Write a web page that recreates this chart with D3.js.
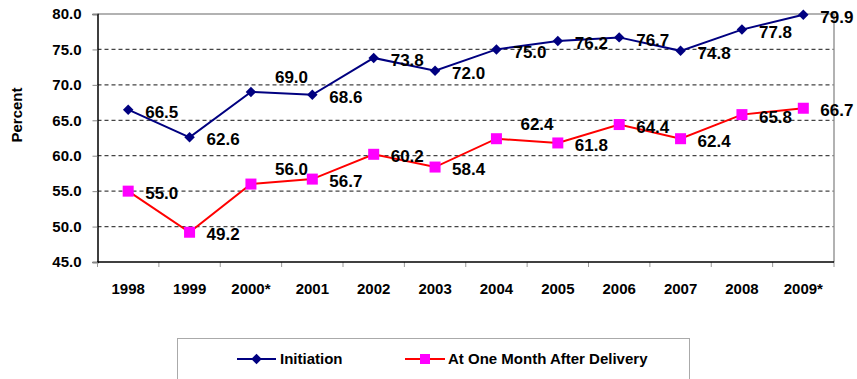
<!DOCTYPE html>
<html>
<head>
<meta charset="utf-8">
<script src="https://cdn.jsdelivr.net/npm/d3@7"></script>
<style>
  html, body { margin: 0; padding: 0; background: #fff; }
  svg { display: block; font-family: Arial, "Liberation Sans", sans-serif; font-weight: bold; }
</style>
</head>
<body>
<svg id="chart" width="857" height="379"></svg>
<script>
// Breastfeeding rates by year
const years = ["1998", "1999", "2000*", "2001", "2002", "2003", "2004", "2005", "2006", "2007", "2008", "2009*"];
const initiation = [66.5, 62.6, 69.0, 68.6, 73.8, 72.0, 75.0, 76.2, 76.7, 74.8, 77.8, 79.9];
const oneMonth = [55.0, 49.2, 56.0, 56.7, 60.2, 58.4, 62.4, 61.8, 64.4, 62.4, 65.8, 66.7];
const yTicks = [45, 50, 55, 60, 65, 70, 75, 80];
const seriesNames = ["Initiation", "At One Month After Delivery"];

const svg = d3.select("#chart");
const plotLeft = 97.5, plotRight = 834, plotTop = 14, plotBottom = 262;

const x = d3.scaleBand().domain(years).range([plotLeft, plotRight]);
const y = d3.scaleLinear().domain([45, 80]).range([plotBottom, plotTop]);

// gridlines
svg.append("g").selectAll("line")
  .data(yTicks.filter(v => v > 45 && v < 80))
  .join("line")
  .attr("x1", plotLeft).attr("x2", plotRight)
  .attr("y1", d => y(d)).attr("y2", d => y(d))
  .attr("stroke", "#444").attr("stroke-width", 1.3)
  .attr("stroke-dasharray", "4,3");

// frame: top and right in grey
svg.append("path")
  .attr("d", `M${plotLeft},${y(80)}H${plotRight}V${plotBottom}`)
  .attr("fill", "none").attr("stroke", "#999").attr("stroke-width", 1.5);

// y axis
const yAxis = svg.append("g")
  .attr("transform", `translate(${plotLeft},0)`)
  .call(d3.axisLeft(y).tickValues(yTicks).tickFormat(d3.format(".1f")).tickSize(5).tickPadding(11));
yAxis.select(".domain").attr("stroke", "#000").attr("stroke-width", 1.5);
yAxis.selectAll(".tick line").attr("stroke", "#888");
yAxis.selectAll("text").attr("font-size", 15).attr("font-weight", "bold")
  .attr("font-family", "Arial, 'Liberation Sans', sans-serif").attr("fill", "#000");

// x axis: ticks at category boundaries
const xAxis = svg.append("g")
  .attr("transform", `translate(0,${plotBottom})`)
  .call(d3.axisBottom(x).tickSize(0).tickPadding(21));
xAxis.select(".domain").remove();
xAxis.selectAll("text").attr("font-size", 15).attr("font-weight", "bold")
  .attr("font-family", "Arial, 'Liberation Sans', sans-serif").attr("fill", "#000");
svg.append("g").selectAll("line")
  .data(d3.range(years.length + 1))
  .join("line")
  .attr("x1", i => plotLeft + i * x.step()).attr("x2", i => plotLeft + i * x.step())
  .attr("y1", plotBottom).attr("y2", plotBottom + 5)
  .attr("stroke", "#999").attr("stroke-width", 1);
svg.append("line")
  .attr("x1", plotLeft).attr("x2", plotRight).attr("y1", plotBottom).attr("y2", plotBottom)
  .attr("stroke", "#000").attr("stroke-width", 1.5);

// y axis title
svg.append("text")
  .attr("transform", "translate(22,115) rotate(-90)")
  .attr("text-anchor", "middle")
  .attr("font-size", 15)
  .text("Percent");

const cx = d => x(d) + x.bandwidth() / 2;
const line = d3.line().x((d, i) => cx(years[i])).y(d => y(d));

// series lines
svg.append("path").datum(initiation).attr("d", line)
  .attr("fill", "none").attr("stroke", "#000080").attr("stroke-width", 2);
svg.append("path").datum(oneMonth).attr("d", line)
  .attr("fill", "none").attr("stroke", "#ff0000").attr("stroke-width", 2);

// markers
const diamond = d3.symbol().type(d3.symbolDiamond2).size(70);
svg.append("g").selectAll("path")
  .data(initiation).join("path")
  .attr("d", diamond)
  .attr("transform", (d, i) => `translate(${cx(years[i])},${y(d)})`)
  .attr("fill", "#000080");
svg.append("g").selectAll("rect")
  .data(oneMonth).join("rect")
  .attr("x", (d, i) => cx(years[i]) - 5.5).attr("y", d => y(d) - 5.5)
  .attr("width", 11).attr("height", 11)
  .attr("fill", "#ff00ff");

// value labels; a few sit lifted above the line to stay clear of it
function labels(values, lifted) {
  svg.append("g").selectAll("text")
    .data(values).join("text")
    .attr("x", (d, i) => cx(years[i]) + (lifted.has(i) ? 24 : 17))
    .attr("y", (d, i) => y(d) + (lifted.has(i) ? -15 : 2))
    .attr("dy", "0.36em")
    .attr("font-size", 17)
    .attr("fill", "#000")
    .text(d => d.toFixed(1));
}
labels(initiation, new Set([2]));
labels(oneMonth, new Set([2, 6]));

// legend
const lg = svg.append("g");
lg.append("rect")
  .attr("x", 177.5).attr("y", 338.5).attr("width", 512).attr("height", 60)
  .attr("fill", "#fff").attr("stroke", "#aaa").attr("stroke-width", 1);
const ly = 359;
lg.append("line").attr("x1", 237).attr("x2", 276).attr("y1", ly).attr("y2", ly)
  .attr("stroke", "#000080").attr("stroke-width", 2);
lg.append("path").attr("d", diamond).attr("transform", `translate(256.5,${ly})`).attr("fill", "#000080");
lg.append("text").attr("x", 280).attr("y", ly).attr("dy", "0.36em").attr("font-size", 15).text(seriesNames[0]);
lg.append("line").attr("x1", 405).attr("x2", 445).attr("y1", ly).attr("y2", ly)
  .attr("stroke", "#ff0000").attr("stroke-width", 2);
lg.append("rect").attr("x", 420).attr("y", ly - 5).attr("width", 10).attr("height", 10).attr("fill", "#ff00ff");
lg.append("text").attr("x", 448).attr("y", ly).attr("dy", "0.36em").attr("font-size", 15).text(seriesNames[1]);
</script>
</body>
</html>
